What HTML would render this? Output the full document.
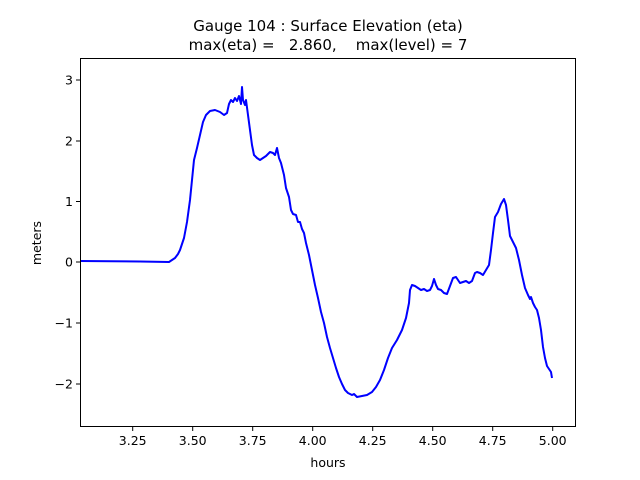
<!DOCTYPE html>
<html><head><meta charset="utf-8"><style>body{margin:0;background:#fff}svg{display:block;font-family:"DejaVu Sans","Liberation Sans",sans-serif}</style></head>
<body>
<svg width="640" height="480" viewBox="0 0 640 480">
<rect width="640" height="480" fill="#fff"/>
<text x="328" y="31" font-size="15" text-anchor="middle">Gauge 104 : Surface Elevation (eta)</text>
<text x="328" y="50" font-size="15" text-anchor="middle" xml:space="preserve">max(eta) =   2.860,    max(level) = 7</text>
<polyline fill="none" stroke="#0000ff" stroke-width="2" stroke-linejoin="round" points="80,261 140,261.5 169,262 172,260 175,258 178,254 180,250 184,238 187,222 190,200 192,180 194,160 197,148 200,135 203,122 206,115 210,111 215,110 220,112 224,115 227,113 229,104 231,100 233,102 235,98 237,101 239,96 241,104 242,87 243,100 245,105 246,100 248,115 250,130 252,145 254,155 257,158 260,160 263,158 266,156 268,154 270,152 273,153 275,155 277,148 279,158 281,163 284,175 286,188 289,197 291,210 293,214 296,215 298,222 300,222 302,229 304,233 306,243 309,255 312,270 315,285 318,298 321,312 324,323 327,337 330,348 333,358 336,368 339,377 342,384 345,390 348,393 352,395 354,394 357,397 362,396 367,395 372,392 376,387 380,380 384,370 388,358 392,348 397,340 402,330 406,318 409,303 410,290 412,285 415,286 418,288 421,290 424,289 427,291 430,290 432,286 434,279 436,285 438,289 441,290 444,293 447,294 450,286 453,278 456,277 458,280 460,283 463,282 466,281 469,283 472,281 475,273 477,272 480,273 483,275 486,270 489,265 491,250 493,233 495,217 498,212 501,204 504,199 506,205 508,220 510,236 513,242 516,248 519,260 522,275 525,288 528,295 530,299 531,297 533,303 535,307 537,310 539,318 541,330 543,347 545,358 547,366 549,369 551,372 552,378"/>
<rect x="80.5" y="58.5" width="495" height="368" fill="none" stroke="#000" stroke-width="1"/>
<g stroke="#000" stroke-width="1">
<line x1="132.7" y1="427" x2="132.7" y2="431"/><line x1="192.7" y1="427" x2="192.7" y2="431"/><line x1="252.7" y1="427" x2="252.7" y2="431"/><line x1="312.7" y1="427" x2="312.7" y2="431"/><line x1="372.7" y1="427" x2="372.7" y2="431"/><line x1="432.7" y1="427" x2="432.7" y2="431"/><line x1="492.7" y1="427" x2="492.7" y2="431"/><line x1="552.7" y1="427" x2="552.7" y2="431"/>
<line x1="76" y1="80" x2="80" y2="80"/><line x1="76" y1="141" x2="80" y2="141"/><line x1="76" y1="201.5" x2="80" y2="201.5"/><line x1="76" y1="262" x2="80" y2="262"/><line x1="76" y1="323" x2="80" y2="323"/><line x1="76" y1="384" x2="80" y2="384"/>
</g>
<g font-size="12.5" text-anchor="middle">
<text x="132.7" y="445">3.25</text><text x="192.7" y="445">3.50</text><text x="252.7" y="445">3.75</text><text x="312.7" y="445">4.00</text><text x="372.7" y="445">4.25</text><text x="432.7" y="445">4.50</text><text x="492.7" y="445">4.75</text><text x="552.7" y="445">5.00</text>
<text x="328" y="467">hours</text>
</g>
<g font-size="12.5" text-anchor="end">
<text x="73" y="84.5">3</text><text x="73" y="145.5">2</text><text x="73" y="206">1</text><text x="73" y="266.5">0</text><text x="73" y="327.5">−1</text><text x="73" y="388.5">−2</text>
</g>
<text transform="translate(41,243) rotate(-90)" font-size="12.5" text-anchor="middle">meters</text>
</svg>
</body></html>
